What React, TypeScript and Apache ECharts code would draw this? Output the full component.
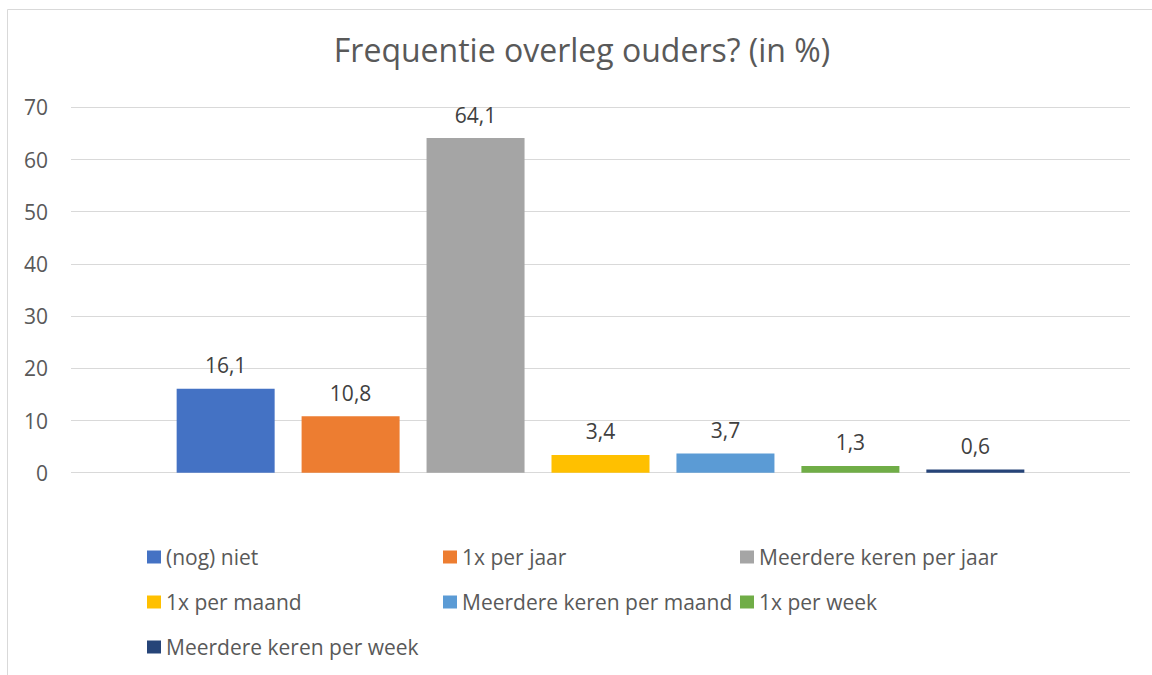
import React, { useEffect, useRef } from "react";
import * as echarts from "echarts";

const seriesNames = [
  "(nog) niet",
  "1x per jaar",
  "Meerdere keren per jaar",
  "1x per maand",
  "Meerdere keren per maand",
  "1x per week",
  "Meerdere keren per week",
];
const seriesValues = [16.1, 10.8, 64.1, 3.4, 3.7, 1.3, 0.6];
const seriesColors = ["#4472C4", "#ED7D31", "#A5A5A5", "#FFC000", "#5B9BD5", "#70AD47", "#264478"];
const categories = ["Frequentie"];
const yTicks = { min: 0, max: 70, interval: 10 };
const titleText = "Frequentie overleg ouders? (in %)";

const FONT = "'Open Sans', sans-serif";

export default function App() {
  const ref = useRef<HTMLDivElement>(null);
  useEffect(() => {
    if (!ref.current) return;
    const chart = echarts.init(ref.current, undefined, { renderer: "svg" });
    const legendPos = [
      [147, 545],
      [443, 545],
      [740, 545],
      [147, 590],
      [443, 590],
      [740, 590],
      [147, 635],
    ];
    const legends = seriesNames.map((name, i) => ({
      show: true,
      data: [name],
      left: legendPos[i][0],
      top: legendPos[i][1],
      padding: 0,
      itemWidth: 14,
      itemHeight: 13,
      icon: "rect",
      selectedMode: false,
      textStyle: { color: "#595959", fontSize: 21, fontFamily: FONT, lineHeight: 24, padding: [0, 0, 0, 0] },
    }));
    chart.setOption({
      animation: false,
      backgroundColor: "#ffffff",
      title: {
        text: titleText,
        left: 582,
        textAlign: "center",
        top: 33,
        padding: 0,
        textStyle: { color: "#595959", fontSize: 32, fontWeight: "normal", fontFamily: FONT },
      },
      graphic: [
        {
          type: "rect",
          shape: { x: 7.5, y: 9.5, width: 1200, height: 800 },
          style: { fill: "none", stroke: "#d9d9d9", lineWidth: 1 },
          silent: true,
        },
      ],
      legend: legends,
      grid: { left: 71, right: 22, top: 107.3, bottom: 675 - 472.7, containLabel: false },
      xAxis: {
        type: "category",
        data: categories,
        axisLine: { show: false },
        axisTick: { show: false },
        axisLabel: { show: false },
      },
      yAxis: {
        type: "value",
        min: yTicks.min,
        max: yTicks.max,
        interval: yTicks.interval,
        axisLine: { show: false },
        axisTick: { show: false },
        axisLabel: { color: "#595959", fontSize: 21, fontFamily: FONT, margin: 23 },
        splitLine: { lineStyle: { color: "#d9d9d9", width: 1 } },
      },
      series: seriesNames.map((name, i) => ({
        type: "bar",
        name,
        data: [seriesValues[i]],
        barWidth: 98,
        barGap: "27.5%",
        itemStyle: { color: seriesColors[i] },
        label: {
          show: true,
          position: "top",
          distance: 13,
          color: "#404040",
          fontSize: 21,
          fontFamily: FONT,
          formatter: (p: any) => String(p.value).replace(".", ","),
        },
      })),
    });
    return () => chart.dispose();
  }, []);
  return (
    <div
      ref={ref}
      style={{ position: "fixed", left: 0, top: 0, width: 1152, height: 675 }}
    />
  );
}
